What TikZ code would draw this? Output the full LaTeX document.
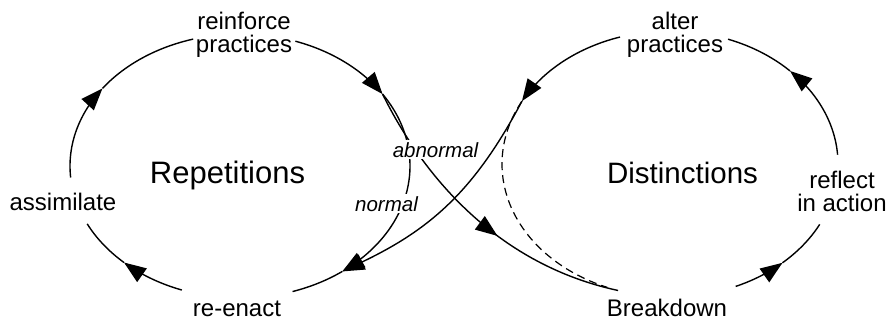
\documentclass[tikz,border=0pt]{standalone}
\usepackage{fontspec}
\setmainfont{Liberation Sans}
\usetikzlibrary{arrows.meta,decorations.markings}
\begin{document}
\begin{tikzpicture}[x=1pt,y=-1pt,line width=1.4pt,
  tipend/.style={-{Triangle[length=22pt,width=16.5pt]}},
  midtip/.style={postaction={decorate},decoration={markings,
     mark=at position #1 with {\arrow{Triangle[length=22pt,width=16.5pt]}}}},
  lbl/.style={font=\fontsize{24}{23}\selectfont,align=center,inner sep=0pt,anchor=base},
  bigl/.style={font=\fontsize{#1}{#1}\selectfont,inner sep=0pt,anchor=base},
  itl/.style={font=\fontsize{20.5}{20}\selectfont\itshape,fill=white,inner sep=2pt,anchor=base},
  dsh/.style={dash pattern=on 8pt off 5pt,line width=1.2pt}]
\useasboundingbox (0,0) rectangle (890,324);

% key points on the two loops
\coordinate (Lsplit) at ({240+170*cos(327)},{166+132*sin(327)});
\coordinate (Lre)    at ({240+170*cos(53)},{166+132*sin(53)});
\coordinate (Ralt)   at ({670+168*cos(208.2)},{164+133*sin(208.2)});
\coordinate (Rbrk)   at ({670+168*cos(108)},{164+133*sin(108)});

% left loop (Repetitions), clockwise
\draw[tipend] plot[domain=175:216,samples=40,variable=\t] ({240+170*cos(\t)},{166+132*sin(\t)});
\draw plot[domain=216:254,samples=40,variable=\t] ({240+170*cos(\t)},{166+132*sin(\t)});
\draw[tipend] plot[domain=289:327,samples=40,variable=\t] ({240+170*cos(\t)},{166+132*sin(\t)});
\draw[tipend] plot[domain=327:413,samples=80,variable=\t] ({240+170*cos(\t)},{166+132*sin(\t)});
\draw plot[domain=413:432,samples=20,variable=\t] ({240+170*cos(\t)},{166+132*sin(\t)});
\draw[tipend] plot[domain=110:133,samples=30,variable=\t] ({240+170*cos(\t)},{166+132*sin(\t)});
\draw plot[domain=133:154,samples=30,variable=\t] ({240+170*cos(\t)},{166+132*sin(\t)});

% right loop (Distinctions), counter-clockwise
\draw[tipend] plot[domain=67:48,samples=30,variable=\t] ({670+168*cos(\t)},{164+133*sin(\t)});
\draw plot[domain=48:27,samples=30,variable=\t] ({670+168*cos(\t)},{164+133*sin(\t)});
\draw[tipend] plot[domain=356:315.6,samples=40,variable=\t] ({670+168*cos(\t)},{164+133*sin(\t)});
\draw plot[domain=315.6:290.2,samples=30,variable=\t] ({670+168*cos(\t)},{164+133*sin(\t)});
\draw[tipend] plot[domain=252.7:208.2,samples=40,variable=\t] ({670+168*cos(\t)},{164+133*sin(\t)});
\draw[dsh] plot[domain=208.2:112,samples=80,variable=\t] ({670+168*cos(\t)},{164+133*sin(\t)});

% crossing connectors
\draw[midtip=0.58] (Lsplit) .. controls (425,180) and (500,265) .. (Rbrk);
\draw[tipend] (Ralt) .. controls (474,192) and (429,230) .. (Lre);

% labels (base anchor = baseline of the last line)
\node[lbl] (reinf) at (244,52) {reinforce\\practices};
\node[lbl] (alter) at (675,52) {alter\\practices};
\node[lbl] (assim) at (63,210) {assimilate};
\node[lbl] (refl) at (842,211) {reflect\\in action};
\node[lbl] (reen) at (237,316) {re-enact};
\node[lbl] (brk) at (667,316) {Breakdown};
\node[bigl=31] (rep) at (227.5,183) {Repetitions};
\node[bigl=29.5] (dist) at (682.5,183) {Distinctions};
\node[itl] (abn) at (435.5,157) {abnormal};
\node[itl] (nor) at (386.5,211) {normal};
\end{tikzpicture}
\end{document}
